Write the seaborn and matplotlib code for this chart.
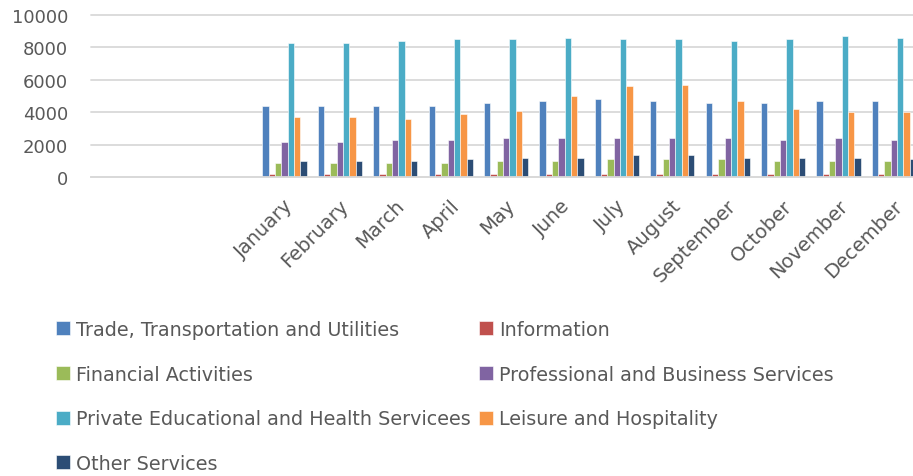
import matplotlib
matplotlib.use("Agg")
import matplotlib.pyplot as plt
import matplotlib.transforms as mtransforms
import pandas as pd
import seaborn as sns

sns.set_style("white")
plt.rcParams["font.family"] = ["DejaVu Sans"]

MONTHS = ["January", "February", "March", "April", "May", "June", "July",
          "August", "September", "October", "November", "December"]
SECTORS = [
    "Trade, Transportation and Utilities",
    "Information",
    "Financial Activities",
    "Professional and Business Services",
    "Private Educational and Health Servicees",
    "Leisure and Hospitality",
    "Other Services",
]
COLORS = ["#4F81BD", "#C0504D", "#9BBB59", "#8064A2", "#4BACC6", "#F79646", "#2C4D75"]

trade = [4400, 4400, 4400, 4400, 4600, 4700, 4800, 4700, 4600, 4600, 4700, 4700]
information = [200, 200, 200, 200, 200, 200, 200, 200, 200, 200, 200, 200]
financial = [900, 900, 900, 900, 1000, 1000, 1100, 1100, 1100, 1000, 1000, 1000]
professional = [2200, 2200, 2300, 2300, 2400, 2400, 2400, 2400, 2400, 2300, 2400, 2300]
education_health = [8300, 8300, 8400, 8500, 8500, 8600, 8500, 8500, 8400, 8500, 8700, 8600]
leisure = [3700, 3700, 3600, 3900, 4100, 5000, 5600, 5700, 4700, 4200, 4000, 4000]
other = [1000, 1000, 1000, 1100, 1200, 1200, 1400, 1400, 1200, 1200, 1200, 1100]

series = [trade, information, financial, professional, education_health, leisure, other]

rows = []
for sector, values in zip(SECTORS, series):
    for month, val in zip(MONTHS, values):
        rows.append({"Month": month, "Sector": sector, "Value": val})
df = pd.DataFrame(rows)

TEXT_COLOR = "#595959"
GRID_COLOR = "#D9D9D9"

fig = plt.figure(figsize=(9.13, 4.77), dpi=100)
ax = fig.add_axes([0.0992, 0.6262, 0.9102, 0.3403])

sns.barplot(data=df, x="Month", y="Value", hue="Sector", order=MONTHS,
            hue_order=SECTORS, palette=COLORS, saturation=1, width=0.8,
            edgecolor="white", linewidth=0.4, errorbar=None, ax=ax)

# Excel left three blank category slots before January
ax.set_xlim(-3.5, 11.5)
ax.set_ylim(0, 10000)
ax.set_yticks(range(0, 10001, 2000))
ax.set_xlabel("")
ax.set_ylabel("")

ax.yaxis.grid(True, color=GRID_COLOR, linewidth=1.3)
ax.set_axisbelow(True)
for gl in ax.get_ygridlines():
    gl.set_clip_on(False)
for side in ["top", "right", "left"]:
    ax.spines[side].set_visible(False)
ax.spines["bottom"].set_color(GRID_COLOR)
ax.spines["bottom"].set_linewidth(1.3)

ax.tick_params(axis="y", length=0, pad=16, labelsize=13, labelcolor=TEXT_COLOR)
ax.tick_params(axis="x", length=0, pad=18, labelsize=14, labelcolor=TEXT_COLOR)
offset = mtransforms.ScaledTranslation(0.06, 0, fig.dpi_scale_trans)
for label in ax.get_xticklabels():
    label.set_rotation(45)
    label.set_ha("right")
    label.set_va("center")
    label.set_rotation_mode("anchor")
    label.set_transform(label.get_transform() + offset)

handles, labels = ax.get_legend_handles_labels()
ax.get_legend().remove()
order = [0, 2, 4, 6, 1, 3, 5]
fig.legend([handles[i] for i in order], [labels[i] for i in order],
           ncol=2, loc="upper left", bbox_to_anchor=(56 / 913, 1 - 321 / 477),
           frameon=False, fontsize=13.8, labelcolor=TEXT_COLOR,
           handlelength=0.73, handleheight=0.73, handletextpad=0.31,
           columnspacing=0.42, labelspacing=1.34, borderpad=0, borderaxespad=0)

plt.savefig("out.png", dpi=100)
plt.close(fig)
